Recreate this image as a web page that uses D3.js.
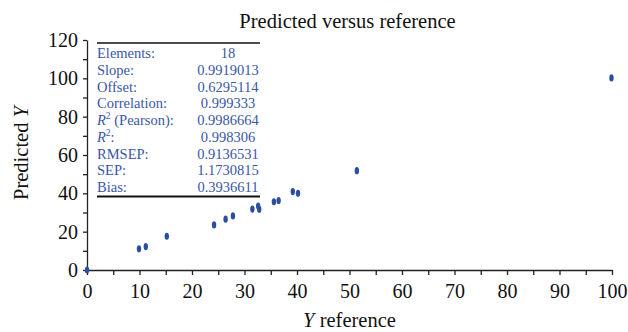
<!DOCTYPE html>
<html>
<head>
<meta charset="utf-8">
<script src="https://cdn.jsdelivr.net/npm/d3@7"></script>
<style>
  body { margin: 0; background: #fff; }
  svg { display: block; }
  text { font-family: "Liberation Serif", "DejaVu Serif", serif; }
</style>
</head>
<body>
<div id="chart"></div>
<script>
// reference (x) vs predicted (y)
let refVals  = [0, 9.9, 11.2, 15.2, 24.2, 26.4, 27.8, 31.5, 32.6, 32.8, 35.6, 36.5, 39.2, 40.2, 51.4, 99.9];
let predVals = [0, 11.1, 12.2, 17.6, 23.5, 26.5, 28.2, 31.8, 33.4, 31.7, 35.6, 36.2, 40.9, 40.0, 51.8, 100.2];

let statLabels = ["Elements:", "Slope:", "Offset:", "Correlation:", "R2P", "R2", "RMSEP:", "SEP:", "Bias:"];
let statValues = ["18", "0.9919013", "0.6295114", "0.999333", "0.9986664", "0.998306", "0.9136531", "1.1730815", "0.3936611"];

let xTicks = d3.range(0, 101, 5);
let yTicks = d3.range(0, 121, 10);

let width = 628, height = 332;
let margin = {top: 40, right: 16, bottom: 62, left: 87};
let width_ = width - margin.left - margin.right;
let height_ = height - margin.top - margin.bottom;

let x = d3.scaleLinear().domain([0, 100]).range([0, width_]);
let y = d3.scaleLinear().domain([0, 120]).range([height_, 0]);

let svg = d3.select("#chart").append("svg")
	.attr("width", width)
	.attr("height", height);

svg.append("text")
	.attr("x", margin.left + width_ / 2 - 2)
	.attr("y", 28)
	.attr("text-anchor", "middle")
	.attr("font-size", 20.5)
	.attr("fill", "#111")
	.text("Predicted versus reference");

let canvas = svg.append("g")
	.attr("transform", "translate(" + margin.left + "," + margin.top + ")");

// x axis: ticks every 5, labels every 10
let xAxis = canvas.append("g")
	.attr("transform", "translate(0," + height_ + ")")
	.call(d3.axisBottom(x).tickValues(xTicks).tickSize(5).tickSizeOuter(0)
		.tickFormat(d => d % 10 === 0 ? d : ""));
xAxis.selectAll("text").attr("font-size", 20).attr("fill", "#111").attr("dy", "1.0em")
	.style("font-family", "'Liberation Serif', serif");

// y axis: ticks every 10, labels every 20
let yAxis = canvas.append("g")
	.call(d3.axisLeft(y).tickValues(yTicks).tickSize(4).tickSizeOuter(0)
		.tickFormat(d => d % 20 === 0 ? d : ""));
yAxis.selectAll("text").attr("font-size", 20).attr("fill", "#111").attr("x", -9)
	.style("font-family", "'Liberation Serif', serif");

canvas.selectAll(".domain, .tick line").attr("stroke", "#222").attr("stroke-width", 1.3);

// axis titles
let xt = svg.append("text")
	.attr("x", margin.left + width_ / 2)
	.attr("y", 326.5)
	.attr("text-anchor", "middle")
	.attr("font-size", 20.5)
	.attr("fill", "#111");
xt.append("tspan").attr("font-style", "italic").text("Y");
xt.append("tspan").text(" reference");

let yt = svg.append("text")
	.attr("transform", "translate(28," + (margin.top + 113) + ") rotate(-90)")
	.attr("text-anchor", "middle")
	.attr("font-size", 20.5)
	.attr("fill", "#111");
yt.append("tspan").text("Predicted ");
yt.append("tspan").attr("font-style", "italic").text("Y");

// stats table
let blue = "#3a56a6";
let tx0 = 97, tx1 = 260, tcol = 228, row0 = 58, rowH = 16.75;
svg.append("line").attr("x1", tx0).attr("x2", tx1).attr("y1", 43).attr("y2", 43)
	.attr("stroke", "#111").attr("stroke-width", 1.3);
svg.append("line").attr("x1", tx0).attr("x2", tx1).attr("y1", 196.5).attr("y2", 196.5)
	.attr("stroke", "#111").attr("stroke-width", 1.8);

statLabels.forEach(function(lab, i) {
	let t = svg.append("text")
		.attr("x", tx0).attr("y", row0 + i * rowH)
		.attr("font-size", 14.5).attr("fill", blue);
	if (lab === "R2P" || lab === "R2") {
		t.append("tspan").attr("font-style", "italic").text("R");
		t.append("tspan").attr("font-size", 9.5).attr("dy", -6).text("2");
		t.append("tspan").attr("dy", 6).text(lab === "R2P" ? " (Pearson):" : ":");
	} else {
		t.text(lab);
	}
	svg.append("text")
		.attr("x", tcol).attr("y", row0 + i * rowH)
		.attr("text-anchor", "middle")
		.attr("font-size", 14.5).attr("fill", blue)
		.text(statValues[i]);
});

// points
canvas.selectAll("ellipse.pt")
	.data(refVals.map((d, i) => [d, predVals[i]]))
	.enter().append("ellipse")
	.attr("class", "pt")
	.attr("cx", d => x(d[0]))
	.attr("cy", d => y(d[1]))
	.attr("rx", 2.2)
	.attr("ry", 3.6)
	.attr("fill", "#2c4ea0");
</script>
</body>
</html>
